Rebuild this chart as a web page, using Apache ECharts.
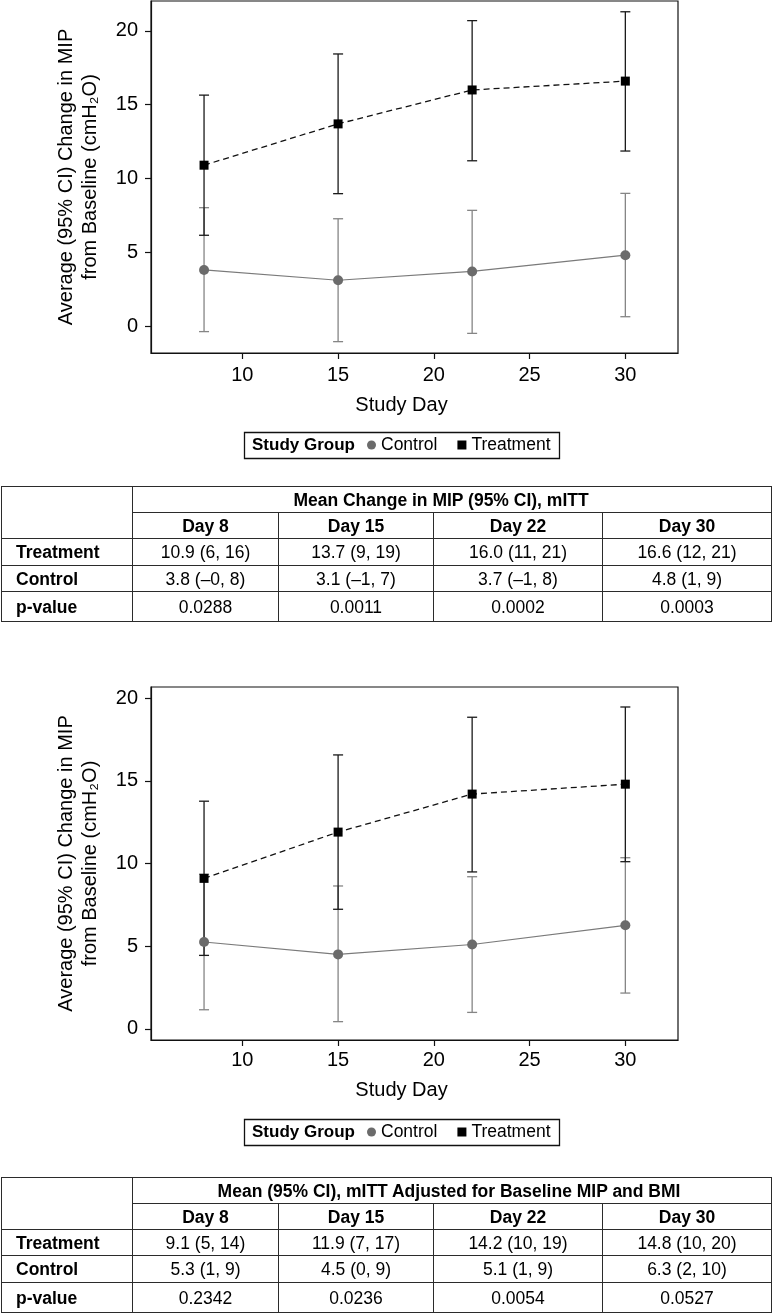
<!DOCTYPE html>
<html>
<head>
<meta charset="utf-8">
<script src="https://cdn.jsdelivr.net/npm/echarts@6/dist/echarts.min.js"></script>
<style>
html,body{margin:0;padding:0;background:#fff;}
#chart{position:absolute;left:0;top:0;width:772px;height:1313px;}
table.t{position:absolute;left:1px;width:770px;border-collapse:collapse;table-layout:fixed;
  font-family:'Liberation Sans',Arial,Helvetica,sans-serif;font-size:17.5px;color:#000;}
table.t td{border:1.4px solid #2b2b2b;padding:0;text-align:center;vertical-align:middle;white-space:nowrap;line-height:18px;}
table.t td.b{font-weight:bold;}
table.t td.l{text-align:left;padding-left:14px;font-weight:bold;}
</style>
</head>
<body>
<div id="chart"></div>
<script>
// ---------- data ----------
const days = [8, 15, 22, 30];
const xTicks = [10, 15, 20, 25, 30];
const yTicks = [0, 5, 10, 15, 20];

// Chart 1 (mITT)
const trt1Mean = [10.9, 13.7, 16.0, 16.6];
const trt1Low  = [6.15, 8.97, 11.2, 11.86];
const trt1High = [15.65, 18.44, 20.7, 21.3];
const ctl1Mean = [3.8, 3.1, 3.7, 4.8];
const ctl1Low  = [-0.38, -1.06, -0.5, 0.63];
const ctl1High = [8.02, 7.27, 7.84, 8.99];

// Chart 2 (mITT adjusted)
const trt2Mean = [9.1, 11.9, 14.2, 14.8];
const trt2Low  = [4.44, 7.23, 9.49, 10.11];
const trt2High = [13.77, 16.57, 18.85, 19.47];
const ctl2Mean = [5.25, 4.5, 5.1, 6.26];
const ctl2Low  = [1.15, 0.43, 0.99, 2.16];
const ctl2High = [9.35, 8.64, 9.2, 10.35];

// Tables
const tableDays = ['Day 8', 'Day 15', 'Day 22', 'Day 30'];
const table1Title = 'Mean Change in MIP (95% CI), mITT';
const table1Treatment = ['10.9 (6, 16)', '13.7 (9, 19)', '16.0 (11, 21)', '16.6 (12, 21)'];
const table1Control = ['3.8 (\u20130, 8)', '3.1 (\u20131, 7)', '3.7 (\u20131, 8)', '4.8 (1, 9)'];
const table1P = ['0.0288', '0.0011', '0.0002', '0.0003'];
const table2Title = 'Mean (95% CI), mITT Adjusted for Baseline MIP and BMI';
const table2Treatment = ['9.1 (5, 14)', '11.9 (7, 17)', '14.2 (10, 19)', '14.8 (10, 20)'];
const table2Control = ['5.3 (1, 9)', '4.5 (0, 9)', '5.1 (1, 9)', '6.3 (2, 10)'];
const table2P = ['0.2342', '0.0236', '0.0054', '0.0527'];

// ---------- tables ----------
function buildTable(top, title, trt, ctl, p, heights, titlePadRight) {
  const t = document.createElement('table');
  t.className = 't';
  t.style.top = top + 'px';
  const cg = document.createElement('colgroup');
  [131, 146, 155, 169, 169].forEach(w => { const c = document.createElement('col'); c.style.width = w + 'px'; cg.appendChild(c); });
  t.appendChild(cg);
  const rows = [];
  rows.push('<tr style="height:' + heights[0] + 'px"><td rowspan="2"></td><td colspan="4" class="b" style="padding-right:' + titlePadRight + 'px">' + title + '</td></tr>');
  rows.push('<tr style="height:' + heights[1] + 'px">' + tableDays.map(d => '<td class="b">' + d + '</td>').join('') + '</tr>');
  rows.push('<tr style="height:' + heights[2] + 'px"><td class="l">Treatment</td>' + trt.map(v => '<td>' + v + '</td>').join('') + '</tr>');
  rows.push('<tr style="height:' + heights[3] + 'px"><td class="l">Control</td>' + ctl.map(v => '<td>' + v + '</td>').join('') + '</tr>');
  rows.push('<tr style="height:' + heights[4] + 'px"><td class="l">p-value</td>' + p.map(v => '<td>' + v + '</td>').join('') + '</tr>');
  t.insertAdjacentHTML('beforeend', '<tbody>' + rows.join('') + '</tbody>');
  document.body.appendChild(t);
}
buildTable(486, table1Title, table1Treatment, table1Control, table1P, [26, 26, 27, 26, 30], 22);
buildTable(1177, table2Title, table2Treatment, table2Control, table2P, [26, 26, 26, 27, 30], 6);

// ---------- chart ----------
const FONT = "'Liberation Sans', Arial, Helvetica, sans-serif";
const chart = echarts.init(document.getElementById('chart'), null, { renderer: 'canvas' });

function pts(m) { return days.map((d, i) => [d, m[i]]); }
function errData(lo, hi) { return days.map((d, i) => [d, lo[i], hi[i]]); }
function errSeries(name, idx, lo, hi, color, lw) {
  return {
    type: 'custom', name: name, xAxisIndex: idx, yAxisIndex: idx, silent: true, z: 2,
    data: errData(lo, hi), encode: { x: 0, y: [1, 2] },
    renderItem: function (params, api) {
      const x = api.value(0);
      const a = api.coord([x, api.value(1)]);
      const b = api.coord([x, api.value(2)]);
      const w = 5;
      const st = { stroke: color, lineWidth: lw };
      return { type: 'group', children: [
        { type: 'line', shape: { x1: a[0], y1: a[1], x2: b[0], y2: b[1] }, style: st },
        { type: 'line', shape: { x1: a[0] - w, y1: a[1], x2: a[0] + w, y2: a[1] }, style: st },
        { type: 'line', shape: { x1: b[0] - w, y1: b[1], x2: b[0] + w, y2: b[1] }, style: st }
      ] };
    }
  };
}
function ctlSeries(idx, m) {
  return { type: 'line', name: 'Control', xAxisIndex: idx, yAxisIndex: idx, data: pts(m),
    symbol: 'circle', symbolSize: 10, itemStyle: { color: '#6b6b6b' },
    lineStyle: { color: '#7a7a7a', width: 1.2 }, z: 4 };
}
function trtSeries(idx, m) {
  return { type: 'line', name: 'Treatment', xAxisIndex: idx, yAxisIndex: idx, data: pts(m),
    symbol: 'rect', symbolSize: 9, itemStyle: { color: '#000' },
    lineStyle: { color: '#111', width: 1.3, type: [6, 4] }, z: 5 };
}
function xAxis(idx, margin, nameGap) {
  return { type: 'value', gridIndex: idx, min: 5.23, max: 32.75,
    name: 'Study Day', nameLocation: 'middle', nameGap: nameGap,
    nameTextStyle: { fontSize: 20, color: '#000', fontFamily: FONT, padding: [0, 26, 0, 0] },
    axisLine: { show: true, onZero: false, lineStyle: { color: '#111', width: 1.2 } },
    axisTick: { show: true, length: 6, customValues: xTicks, lineStyle: { color: '#111', width: 1.2 } },
    axisLabel: { customValues: xTicks, fontSize: 20, color: '#000', fontFamily: FONT, margin: margin },
    splitLine: { show: false } };
}
function yAxis(idx, min, max) {
  return { type: 'value', gridIndex: idx, min: min, max: max,
    name: 'Average (95% CI) Change in MIP\nfrom Baseline (cmH\u2082O)', nameLocation: 'middle', nameGap: 49,
    nameTextStyle: { fontSize: 20, color: '#000', fontFamily: FONT, lineHeight: 24 },
    axisLine: { show: true, onZero: false, lineStyle: { color: '#111', width: 1.2 } },
    axisTick: { show: true, length: 6, customValues: yTicks, lineStyle: { color: '#111', width: 1.2 } },
    axisLabel: { customValues: yTicks, fontSize: 20, color: '#000', fontFamily: FONT, margin: 13 },
    splitLine: { show: false } };
}
function legend(top) {
  return { left: 367, top: top, padding: 0, itemWidth: 9, itemHeight: 9, itemGap: 20,
    data: [{ name: 'Control', icon: 'circle' }, { name: 'Treatment', icon: 'rect' }],
    textStyle: { fontSize: 17.5, color: '#000', fontFamily: FONT } };
}
function legendBox(top) {
  return [
    { type: 'rect', shape: { x: 244.5, y: top + 0.5, width: 315, height: 26 },
      style: { fill: 'none', stroke: '#111', lineWidth: 1.3 }, silent: true },
    { type: 'text', x: 252, y: top + 13.5,
      style: { text: 'Study Group', font: 'bold 17px ' + FONT, fill: '#000', verticalAlign: 'middle' }, silent: true }
  ];
}

const option = {
  animation: false,
  backgroundColor: '#fff',
  grid: [
    { left: 151, top: 1, width: 527, height: 352, show: true, borderColor: '#111', borderWidth: 1.2, backgroundColor: 'transparent' },
    { left: 151, top: 687, width: 527, height: 353, show: true, borderColor: '#111', borderWidth: 1.2, backgroundColor: 'transparent' }
  ],
  xAxis: [xAxis(0, 12, 42), xAxis(1, 10, 40)],
  yAxis: [yAxis(0, -1.83, 22.03), yAxis(1, -0.68, 20.68)],
  legend: [legend(436), legend(1123)],
  graphic: legendBox(432).concat(legendBox(1119)),
  series: [
    errSeries('Control CI 1', 0, ctl1Low, ctl1High, '#858585', 1.3),
    errSeries('Treatment CI 1', 0, trt1Low, trt1High, '#1a1a1a', 1.3),
    ctlSeries(0, ctl1Mean),
    trtSeries(0, trt1Mean),
    errSeries('Control CI 2', 1, ctl2Low, ctl2High, '#858585', 1.3),
    errSeries('Treatment CI 2', 1, trt2Low, trt2High, '#1a1a1a', 1.3),
    ctlSeries(1, ctl2Mean),
    trtSeries(1, trt2Mean)
  ]
};
chart.setOption(option);
</script>
</body>
</html>
